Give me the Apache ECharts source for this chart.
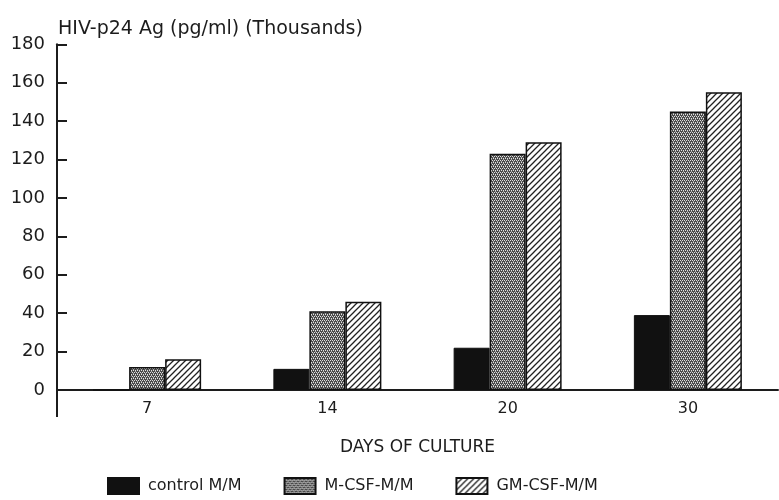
<!DOCTYPE html>
<html>
<head>
<meta charset="utf-8">
<script src="https://cdn.jsdelivr.net/npm/echarts@6/dist/echarts.min.js"></script>
<style>
  html, body { margin: 0; padding: 0; background: #fff; }
  #chart { width: 779px; height: 500px; }
</style>
</head>
<body>
<div id="chart"></div>
<script>
// Days of culture on the x axis
const days = ['7', '14', '20', '30'];
// HIV-p24 antigen, pg/ml in thousands
const controlMM = [0, 11, 22, 39];
const mcsfMM = [12, 41, 123, 145];
const gmcsfMM = [16, 46, 129, 155];
// y axis range and step
const yMin = 0, yMax = 180, yStep = 20;

const INK = '#1c1c1c';
const FONT = '"DejaVu Sans", Verdana, sans-serif';

// Stippled fill for M-CSF bars
function stipple() {
  const c = document.createElement('canvas');
  c.width = 4; c.height = 4;
  const g = c.getContext('2d');
  g.fillStyle = '#4a4a4a';
  g.fillRect(0, 0, 4, 4);
  g.fillStyle = '#e0e0e0';
  g.fillRect(0, 0, 1, 1);
  g.fillRect(2, 0, 1, 1);
  g.fillRect(1, 2, 1, 1);
  g.fillRect(3, 2, 1, 1);
  g.fillStyle = '#a8a8a8';
  g.fillRect(1, 1, 1, 1);
  g.fillRect(3, 3, 1, 1);
  return c;
}
// Diagonal hatch fill for GM-CSF bars
function hatch() {
  const s = 6;
  const c = document.createElement('canvas');
  c.width = s; c.height = s;
  const g = c.getContext('2d');
  g.fillStyle = '#fff';
  g.fillRect(0, 0, s, s);
  g.strokeStyle = '#222';
  g.lineWidth = 1.3;
  g.beginPath();
  g.moveTo(-1, s + 1); g.lineTo(s + 1, -1);
  g.moveTo(-1, 1); g.lineTo(1, -1);
  g.moveTo(s - 1, s + 1); g.lineTo(s + 1, s - 1);
  g.stroke();
  return c;
}

const chart = echarts.init(document.getElementById('chart'));
const barBase = { type: 'bar', barWidth: 36, barGap: '0%' };

chart.setOption({
  animation: false,
  title: {
    text: 'HIV-p24 Ag (pg/ml) (Thousands)',
    left: 53, top: 15,
    textStyle: { fontFamily: FONT, fontSize: 19, fontWeight: 'normal', color: INK }
  },
  legend: {
    left: 102, top: 472,
    icon: 'rect',
    itemWidth: 31, itemHeight: 16, itemGap: 42,
    textStyle: { fontFamily: FONT, fontSize: 16, color: INK, padding: [3, 0, 0, 4] },
    data: ['control M/M', 'M-CSF-M/M', 'GM-CSF-M/M']
  },
  grid: { left: 57, right: 1, top: 44.3, bottom: 110, containLabel: false },
  xAxis: {
    type: 'category',
    data: days,
    name: 'DAYS OF CULTURE',
    nameLocation: 'middle',
    nameGap: 49,
    nameTextStyle: { fontFamily: FONT, fontSize: 17, color: INK },
    axisLine: { lineStyle: { color: INK, width: 2 } },
    axisTick: { show: false },
    axisLabel: { fontFamily: FONT, fontSize: 16, color: INK, margin: 11 }
  },
  yAxis: {
    type: 'value',
    min: yMin, max: yMax, interval: yStep,
    splitLine: { show: false },
    axisLine: { show: true, lineStyle: { color: INK, width: 2 } },
    axisTick: { show: true, inside: true, length: 10, lineStyle: { width: 2, color: INK } },
    axisLabel: { fontFamily: FONT, fontSize: 18, color: INK, margin: 12 }
  },
  series: [
    Object.assign({}, barBase, {
      name: 'control M/M', data: controlMM,
      itemStyle: { color: '#111', borderColor: '#111', borderWidth: 1 }
    }),
    Object.assign({}, barBase, {
      name: 'M-CSF-M/M', data: mcsfMM,
      itemStyle: { color: { image: stipple(), repeat: 'repeat' }, borderColor: '#111', borderWidth: 1.5 }
    }),
    Object.assign({}, barBase, {
      name: 'GM-CSF-M/M', data: gmcsfMM,
      itemStyle: { color: { image: hatch(), repeat: 'repeat' }, borderColor: '#111', borderWidth: 1.5 }
    })
  ]
});

// The y axis line runs on a little below the zero line
const origin = chart.convertToPixel({ gridIndex: 0 }, [0, yMin]);
const axisX = chart.getModel().getComponent('grid').coordinateSystem.getRect().x;
chart.setOption({
  graphic: [{
    type: 'line',
    shape: { x1: axisX, y1: origin[1], x2: axisX, y2: origin[1] + 27 },
    style: { stroke: INK, lineWidth: 2 },
    z: 10
  }]
});
</script>
</body>
</html>
